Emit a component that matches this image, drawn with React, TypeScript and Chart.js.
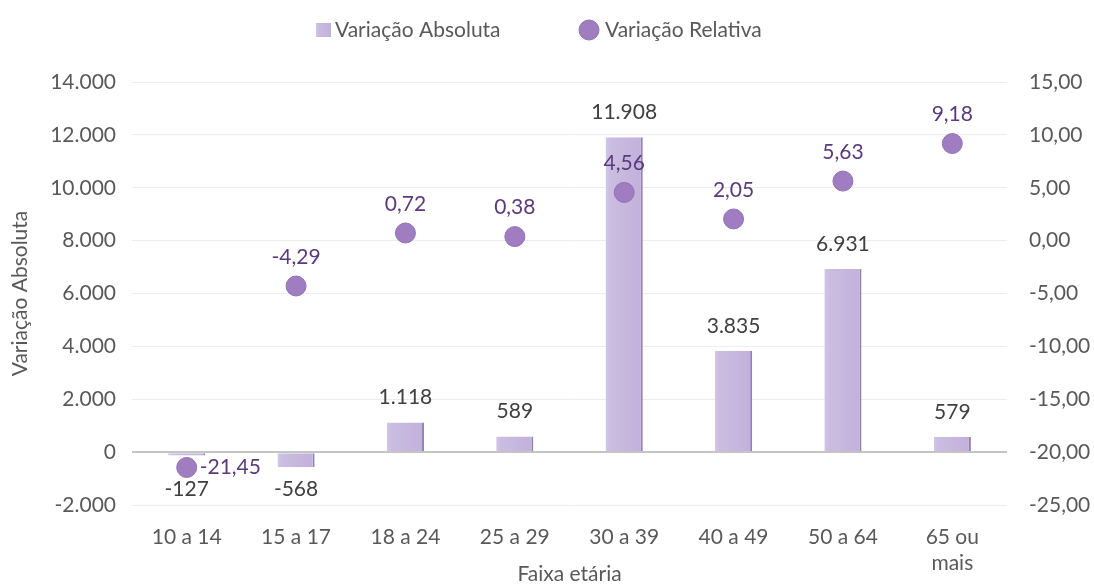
import React, { useEffect, useRef } from "react";
import { Chart, registerables } from "chart.js";

Chart.register(...registerables);

const CATEGORIES: (string | string[])[] = [
  "10 a 14",
  "15 a 17",
  "18 a 24",
  "25 a 29",
  "30 a 39",
  "40 a 49",
  "50 a 64",
  ["65 ou", "mais"],
];
const ABSOLUTE = [-127, -568, 1118, 589, 11908, 3835, 6931, 579];
const RELATIVE = [-21.45, -4.29, 0.72, 0.38, 4.56, 2.05, 5.63, 9.18];
const LEFT_RANGE = [-2000, 14000];
const LEFT_STEP = 2000;
const RIGHT_RANGE = [-25, 15];
const RIGHT_STEP = 5;
const SERIES_NAMES = ["Variação Absoluta", "Variação Relativa"];
const X_TITLE = "Faixa etária";
const Y_TITLE = "Variação Absoluta";

const FONT = "Lato, 'Open Sans', sans-serif";
const FSIZE = 21;
const AXIS_COLOR = "#595959";
const LABEL_COLOR = "#404040";
const POINT_COLOR = "#a07cc0";
const POINT_LABEL_COLOR = "#5b3a7c";
const BAR_PCT = 0.34;

function fmtInt(v: number): string {
  const s = Math.abs(Math.round(v))
    .toString()
    .replace(/\B(?=(\d{3})+(?!\d))/g, ".");
  return (v < 0 ? "-" : "") + s;
}
function fmtDec(v: number): string {
  return (v < 0 ? "-" : "") + Math.abs(v).toFixed(2).replace(".", ",");
}

function barGradient(ctx: CanvasRenderingContext2D, x0: number, x1: number) {
  const g = ctx.createLinearGradient(x0, 0, x1, 0);
  g.addColorStop(0, "#d2c6e5");
  g.addColorStop(0.12, "#cbbde1");
  g.addColorStop(1, "#c2b0da");
  return g;
}

const valueLabels = {
  id: "valueLabels",
  afterDatasetsDraw(chart: any, _args: any, opts: any) {
    const ctx: CanvasRenderingContext2D = chart.ctx;
    ctx.save();
    ctx.font = `${FSIZE}px ${FONT}`;
    ctx.textBaseline = "middle";
    const barMeta = chart.getDatasetMeta(0);
    barMeta.data.forEach((el: any, i: number) => {
      const v = ABSOLUTE[i];
      ctx.fillStyle = LABEL_COLOR;
      ctx.textAlign = "center";
      const extra = (opts.negativeExtra && opts.negativeExtra[i]) || 0;
      const y = v >= 0 ? el.y - 25 : el.y + 22 + extra;
      ctx.fillText(fmtInt(v), el.x, y);
    });
    const ptMeta = chart.getDatasetMeta(1);
    ptMeta.data.forEach((el: any, i: number) => {
      const v = RELATIVE[i];
      ctx.fillStyle = POINT_LABEL_COLOR;
      if ((opts.rightSide || []).includes(i)) {
        ctx.textAlign = "left";
        ctx.fillText(fmtDec(v), el.x + 13, el.y);
      } else {
        ctx.textAlign = "center";
        ctx.fillText(fmtDec(v), el.x, el.y - 29);
      }
    });
    ctx.restore();
  },
};

const customLegend = {
  id: "customLegend",
  afterDraw(chart: any) {
    const ctx: CanvasRenderingContext2D = chart.ctx;
    ctx.save();
    ctx.font = `${FSIZE}px ${FONT}`;
    ctx.textBaseline = "middle";
    ctx.textAlign = "left";
    ctx.fillStyle = barGradient(ctx, 316, 331);
    ctx.fillRect(316, 23, 15, 14);
    ctx.fillStyle = AXIS_COLOR;
    ctx.fillText(SERIES_NAMES[0], 335, 30);
    ctx.beginPath();
    ctx.arc(589, 30, 10, 0, Math.PI * 2);
    ctx.fillStyle = POINT_COLOR;
    ctx.fill();
    ctx.lineWidth = 1;
    ctx.strokeStyle = "#9272b5";
    ctx.stroke();
    ctx.fillStyle = AXIS_COLOR;
    ctx.fillText(SERIES_NAMES[1], 605, 30);
    ctx.restore();
  },
};

export default function App() {
  const ref = useRef<HTMLCanvasElement | null>(null);

  useEffect(() => {
    if (!ref.current) return;
    const chart = new Chart(ref.current, {
      type: "bar",
      data: {
        labels: CATEGORIES as any,
        datasets: [
          {
            type: "bar",
            label: SERIES_NAMES[0],
            data: ABSOLUTE,
            yAxisID: "y",
            order: 2,
            categoryPercentage: BAR_PCT,
            barPercentage: 1,
            borderWidth: { top: 0, left: 0, bottom: 0, right: 2 },
            borderSkipped: false,
            borderColor: "#9383b3",
            backgroundColor: (c: any) => {
              const xs = c.chart.scales && c.chart.scales.x;
              if (!xs || c.type !== "data" || !xs.width) return "#c8b9df";
              const cx = xs.getPixelForValue(c.dataIndex);
              const w = (xs.width / CATEGORIES.length) * BAR_PCT;
              return barGradient(c.chart.ctx, cx - w / 2, cx + w / 2);
            },
          } as any,
          {
            type: "line",
            label: SERIES_NAMES[1],
            data: RELATIVE,
            yAxisID: "y1",
            order: 1,
            showLine: false,
            pointRadius: 10,
            pointHoverRadius: 10,
            pointBackgroundColor: POINT_COLOR,
            pointBorderColor: "#9272b5",
            pointBorderWidth: 1,
          } as any,
        ],
      },
      options: {
        responsive: false,
        animation: false,
        devicePixelRatio: 1,
        layout: { padding: { top: 82, left: 0, right: 0, bottom: 0 } },
        plugins: {
          legend: { display: false },
          tooltip: { enabled: false },
          valueLabels: { rightSide: [0], negativeExtra: { 0: 12 } },
        } as any,
        scales: {
          x: {
            grid: { display: false, drawTicks: false },
            border: { display: false },
            ticks: {
              color: AXIS_COLOR,
              font: { family: FONT, size: FSIZE, lineHeight: 1.2 },
              padding: 20,
              maxRotation: 0,
              autoSkip: false,
            },
            title: {
              display: true,
              text: X_TITLE,
              color: AXIS_COLOR,
              font: { family: FONT, size: FSIZE, lineHeight: 1 },
              padding: { top: 0, bottom: 0 },
            },
            afterFit: (s: any) => {
              s.height = 80;
            },
          },
          y: {
            position: "left",
            min: LEFT_RANGE[0],
            max: LEFT_RANGE[1],
            grid: {
              drawTicks: false,
              color: (c: any) => (c.tick && c.tick.value === 0 ? "#c4c4c4" : "#ececec"),
              lineWidth: (c: any) => (c.tick && c.tick.value === 0 ? 2 : 1),
            },
            border: { display: false },
            ticks: {
              stepSize: LEFT_STEP,
              color: AXIS_COLOR,
              font: { family: FONT, size: FSIZE },
              padding: 16,
              callback: (v: any) => fmtInt(Number(v)),
            },
            title: {
              display: true,
              text: Y_TITLE,
              color: AXIS_COLOR,
              font: { family: FONT, size: FSIZE, lineHeight: 1 },
              padding: { top: 10, bottom: 0 },
            },
            afterFit: (s: any) => {
              s.width = 132;
            },
          },
          y1: {
            position: "right",
            min: RIGHT_RANGE[0],
            max: RIGHT_RANGE[1],
            grid: { display: false, drawTicks: false },
            border: { display: false },
            ticks: {
              stepSize: RIGHT_STEP,
              color: AXIS_COLOR,
              font: { family: FONT, size: FSIZE },
              padding: 22,
              callback: (v: any) => fmtDec(Number(v)),
            },
            afterFit: (s: any) => {
              s.width = 87;
            },
          },
        },
      } as any,
      plugins: [valueLabels, customLegend] as any,
    });
    return () => chart.destroy();
  }, []);

  return (
    <div style={{ position: "fixed", left: 0, top: 0, width: 1094, height: 585, background: "#fff" }}>
      <canvas ref={ref} width={1094} height={585} style={{ width: 1094, height: 585 }} />
    </div>
  );
}
